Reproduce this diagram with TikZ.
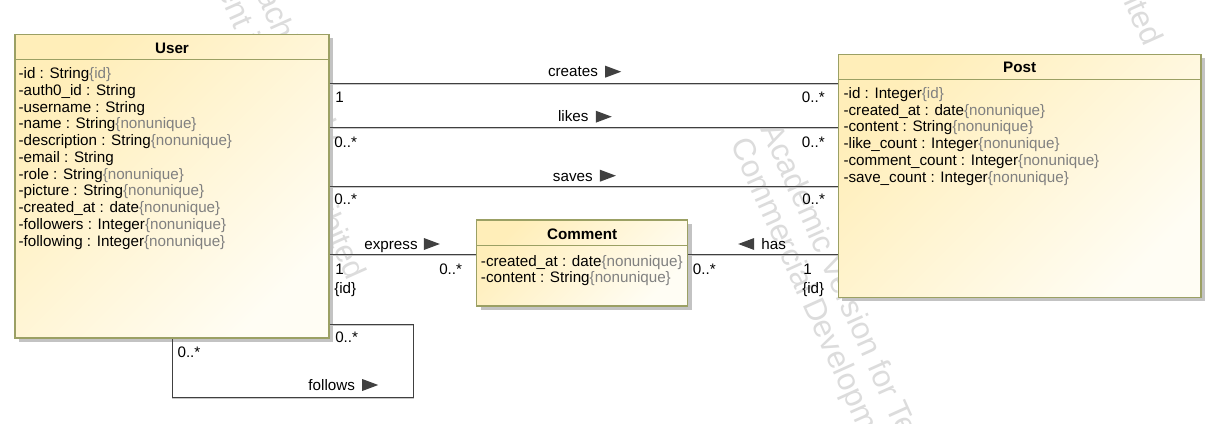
\documentclass[tikz,border=0pt]{standalone}
\usepackage{fontspec}
\setmainfont{Liberation Sans}
\usetikzlibrary{fit}
\definecolor{clsborder}{RGB}{155,160,100}
\definecolor{clstop}{RGB}{255,238,185}
\definecolor{clsbot}{RGB}{255,253,244}
\definecolor{clsshadow}{RGB}{195,195,195}
\definecolor{linec}{RGB}{64,64,64}
\definecolor{constc}{RGB}{128,128,128}
\definecolor{wmc}{RGB}{220,220,220}
\newcommand\cons[1]{\textcolor{constc}{\{#1\}}}
\begin{document}
\begin{tikzpicture}[x=0.75pt,y=-0.75pt,
  every node/.style={inner sep=0pt, font=\fontsize{11.4pt}{13pt}\selectfont},
  classbox/.style={draw=clsborder, line width=1pt, top color=clstop, bottom color=clsbot, shading angle=45, inner sep=0pt},
  boxshadow/.style={fill=clsshadow},
  sepline/.style={draw=clsborder, line width=1pt},
  title/.style={anchor=base, font=\bfseries\fontsize{11.4pt}{13pt}\selectfont},
  attr/.style={anchor=base west},
  mult/.style={anchor=base west},
  lbl/.style={anchor=base},
  tri/.style={fill=linec},
  assoc/.style={draw=linec, line width=0.9pt, preaction={draw=black!22, line width=0.9pt, transform canvas={yshift=-0.9pt}}},
  wm/.style={anchor=west, rotate=-65.8, text=wmc, font=\fontsize{23.5pt}{23.5pt}\selectfont}
]
\useasboundingbox (0,0) rectangle (1213,424);
\fill[white] (0,0) rectangle (1213,424);
% watermark
\begin{scope}
\clip (0,0) rectangle (1213,424);
\node[wm] (wmA1) at (768,126) {Academic Version for Teaching Only};
\node[wm] (wmA2) at (737.6,140.4) {Commercial Development is strictly prohibited};
\node[wm] (wmB1) at (124.9,-316.4) {Academic Version for Teaching Only};
\node[wm] (wmB2) at (94.5,-302) {Commercial Development is strictly prohibited};
\node[wm] (wmC1) at (921.4,-550.4) {Academic Version for Teaching Only};
\node[wm] (wmC2) at (891,-536) {Commercial Development is strictly prohibited};
\end{scope}
% corners
\coordinate (user-nw) at (15,34.3);   \coordinate (user-se) at (329,338);
\coordinate (post-nw) at (838.3,54.3); \coordinate (post-se) at (1201,297.3);
\coordinate (comm-nw) at (476.7,220);  \coordinate (comm-se) at (687.7,306);
% shadows
\fill[boxshadow] ([shift={(4,4)}]user-nw) rectangle ([shift={(4,4)}]user-se);
\fill[boxshadow] ([shift={(4,4)}]post-nw) rectangle ([shift={(4,4)}]post-se);
\fill[boxshadow] ([shift={(4,4)}]comm-nw) rectangle ([shift={(4,4)}]comm-se);
% boxes
\node[classbox, fit=(user-nw)(user-se)] (user) {};
\node[classbox, fit=(post-nw)(post-se)] (post) {};
\node[classbox, fit=(comm-nw)(comm-se)] (comment) {};
\coordinate (hu) at (0,59.3);
\coordinate (hp) at (0,79.3);
\coordinate (hc) at (0,245.7);
\draw[sepline] (user.west |- hu) -- (user.east |- hu);
\draw[sepline] (post.west |- hp) -- (post.east |- hp);
\draw[sepline] (comment.west |- hc) -- (comment.east |- hc);
% titles
\node[title] (tuser) at (172,53.3) {User};
\node[title] (tpost) at (1019.7,73) {Post};
\node[title] (tcomm) at (582.2,239.3) {Comment};
% attributes
\foreach \t [count=\i] in {
  {-id : String\cons{id}},
  {-auth0\_id : String},
  {-username : String},
  {-name : String\cons{nonunique}},
  {-description : String\cons{nonunique}},
  {-email : String},
  {-role : String\cons{nonunique}},
  {-picture : String\cons{nonunique}},
  {-created\_at : date\cons{nonunique}},
  {-followers : Integer\cons{nonunique}},
  {-following : Integer\cons{nonunique}}}
  \node[attr] (ua\i) at (18.3,{78.6+16.77*(\i-1)}) {\t};
\foreach \t [count=\i] in {
  {-id : Integer\cons{id}},
  {-created\_at : date\cons{nonunique}},
  {-content : String\cons{nonunique}},
  {-like\_count : Integer\cons{nonunique}},
  {-comment\_count : Integer\cons{nonunique}},
  {-save\_count : Integer\cons{nonunique}}}
  \node[attr] (pa\i) at (843.3,{98.6+16.7*(\i-1)}) {\t};
\node[attr] (ca1) at (480.7,266) {-created\_at : date\cons{nonunique}};
\node[attr] (ca2) at (480.7,282) {-content : String\cons{nonunique}};
% connector levels
\coordinate (ycr) at (0,83.3);
\coordinate (yli) at (0,127.7);
\coordinate (ysa) at (0,186.7);
\coordinate (yex) at (0,254.3);
\coordinate (yfo) at (0,324.3);
\coordinate (fcorner) at (413.3,397.3);
\coordinate (xfo) at (172.7,0);
% connectors
\draw[assoc] (user.east |- ycr) -- (post.west |- ycr);
\draw[assoc] (user.east |- yli) -- (post.west |- yli);
\draw[assoc] (user.east |- ysa) -- (post.west |- ysa);
\draw[assoc] (user.east |- yex) -- (comment.west |- yex);
\draw[assoc] (comment.east |- yex) -- (post.west |- yex);
\draw[assoc] (user.east |- yfo) -| (fcorner) -| (user.south -| xfo);
% labels
\node[lbl] (lcr) at (573,77) {creates};
\node[lbl] (lli) at (573.3,122) {likes};
\node[lbl] (lsa) at (572.8,181) {saves};
\node[lbl] (lex) at (391,249.3) {express};
\node[lbl] (lha) at (773.7,249.3) {has};
\node[lbl] (lfo) at (331.7,390.3) {follows};
\fill[tri] (lcr.base east) ++(7,-11.3) -- ++(16,6) -- ++(-16,6) -- cycle;
\fill[tri] (lli.base east) ++(7,-11.3) -- ++(16,6) -- ++(-16,6) -- cycle;
\fill[tri] (lsa.base east) ++(7,-11.3) -- ++(16,6) -- ++(-16,6) -- cycle;
\fill[tri] (lex.base east) ++(6,-11.3) -- ++(16,6) -- ++(-16,6) -- cycle;
\fill[tri] (lfo.base east) ++(7,-11.3) -- ++(16,6) -- ++(-16,6) -- cycle;
\fill[tri] (lha.base west) ++(-7,-11.3) -- ++(-16,6) -- ++(16,6) -- cycle;
% multiplicities
\node[mult] (m1) at (335,102.6) {1};
\node[mult] (m2) at (801.7,102.6) {0..*};
\node[mult] (m3) at (334,147.3) {0..*};
\node[mult] (m4) at (801.7,147.3) {0..*};
\node[mult] (m5) at (334,204.3) {0..*};
\node[mult] (m6) at (802,204.3) {0..*};
\node[mult] (m7) at (335,274.8) {1};
\node[mult] (m8) at (334,293) {\{id\}};
\node[mult] (m9) at (439,274.8) {0..*};
\node[mult] (m10) at (692.7,274.8) {0..*};
\node[mult] (m11) at (803,274.8) {1};
\node[mult] (m12) at (802,293) {\{id\}};
\node[mult] (m13) at (335,342) {0..*};
\node[mult] (m14) at (177.3,357) {0..*};
\end{tikzpicture}
\end{document}
